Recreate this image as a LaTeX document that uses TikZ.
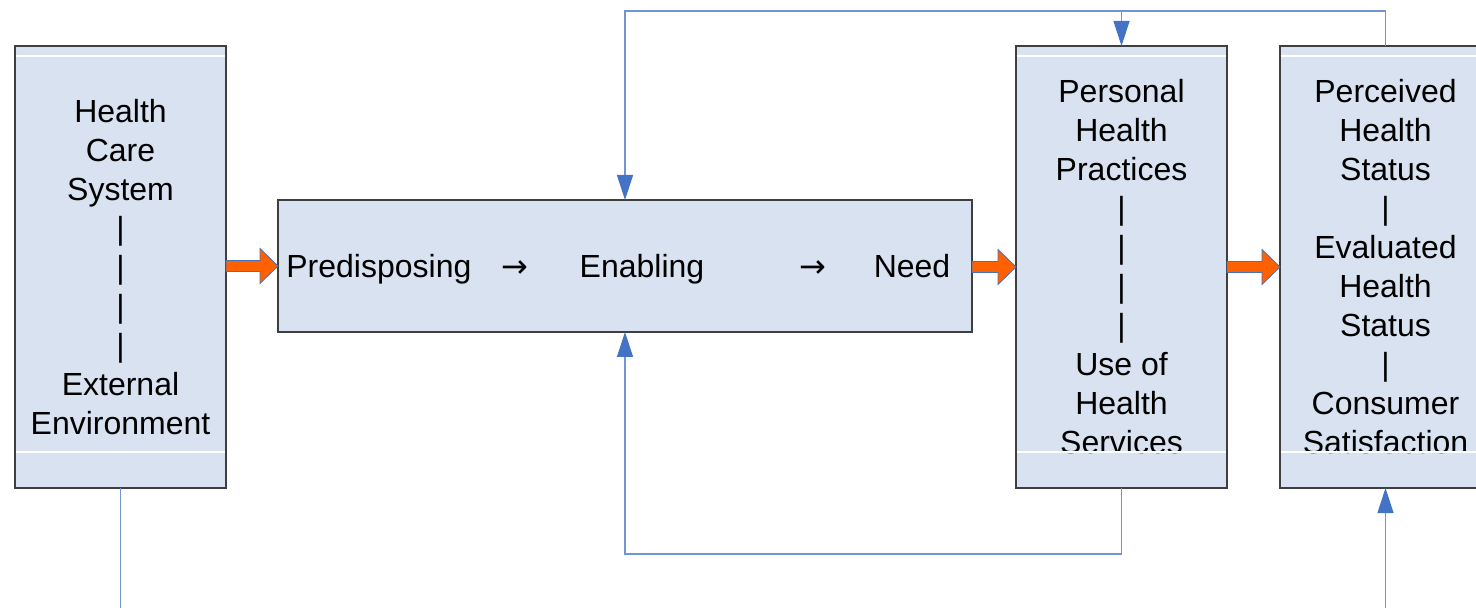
\documentclass[tikz,border=0pt]{standalone}
\usepackage{fontspec}
\setmainfont{Liberation Sans}
\newfontfamily\simbolos{DejaVu Sans}
\usetikzlibrary{arrows.meta,calc}
\definecolor{cajaazul}{HTML}{D9E2F0}
\definecolor{bordegris}{HTML}{3F3F3F}
\definecolor{lineaazul}{HTML}{6F95D2}
\definecolor{puntaazul}{HTML}{4472C4}
\definecolor{naranja}{HTML}{FF6000}
\tikzset{
  caja/.style={draw=bordegris, fill=cajaazul, line width=0.6pt, inner sep=0pt, outer sep=0pt,
    align=center, font=\fontsize{16}{19.5}\selectfont},
  columna/.style={caja, minimum width=105.5pt, minimum height=221pt},
  brillo/.style={white, line width=0.6pt},
  flecha/.style={fill=naranja, draw=puntaazul, line width=0.4pt, line join=miter},
  linea/.style={lineaazul, line width=0.6pt},
  retro/.style={linea, -{Triangle[length=12.5pt,width=8pt,color=puntaazul]}},
  texto/.style={font=\fontsize{16}{19.5}\selectfont, inner sep=0pt, anchor=base}
}
\begin{document}
\begin{tikzpicture}[x=0.5pt, y=-0.5pt]
    \useasboundingbox (0,0) rectangle (1476,608);

    % Columnas
    \node[columna] (sistema) at (120.5,267)
        {Health\\Care\\System\\|\\|\\|\\|\\External\\Environment};
    \node[columna] (uso) at (1121.5,267)
        {Personal\\Health\\Practices\\|\\|\\|\\|\\Use of\\Health\\Services};
    \node[columna] (resultado) at (1385.5,267)
        {Perceived\\Health\\Status\\|\\Evaluated\\Health\\Status\\|\\Consumer\\Satisfaction};

    % Brillos de las columnas
    \foreach \c in {sistema,uso,resultado}{
        \draw[brillo] ($(\c.north west)+(0.6,10)$) -- ($(\c.north east)+(-0.6,10)$);
        \draw[brillo] ($(\c.south west)+(0.6,-36)$) -- ($(\c.south east)+(-0.6,-36)$);
    }

    % Caja central
    \node[caja, minimum width=347pt, minimum height=66pt] (factores) at (625,266) {};
    \node[texto, anchor=base west] (predisp) at (286,277.5) {Predisposing};
    \node[texto] (fl1) at (515,277.5) {\simbolos →};
    \node[texto] (habil) at (642,277.5) {Enabling};
    \node[texto] (fl2) at (813,277.5) {\simbolos →};
    \node[texto] (necesidad) at (912,277.5) {Need};

    % Flechas gruesas
    \foreach \a/\b in {sistema/factores, factores/uso, uso/resultado}{
        \coordinate (ini) at (\a.east|-\b.west);
        \coordinate (fin) at (\b.west);
        \draw[flecha] ($(ini)+(0,-5.5)$) -- ($(fin)+(-18,-5.5)$) -- ($(fin)+(-18,-17.5)$)
            -- (fin) -- ($(fin)+(-18,17.5)$) -- ($(fin)+(-18,5.5)$) -- ($(ini)+(0,5.5)$) -- cycle;
    }

    % Retroalimentacion
    \coordinate (arriba) at ($(resultado.north)+(0,-35)$);
    \draw[retro] (resultado.north) -- (arriba) -| (factores.north);
    \draw[retro] (uso.north|-arriba) -- (uso.north);
    \draw[retro] (uso.south) -- ++(0,66) -| (factores.south);

    % Lineas de entrada y salida
    \coordinate (salida) at (120.5,612);
    \coordinate (entrada) at (1385.5,612);
    \draw[linea] (sistema.south) -- (salida);
    \draw[retro] (entrada) -- (resultado.south);
\end{tikzpicture}
\end{document}
